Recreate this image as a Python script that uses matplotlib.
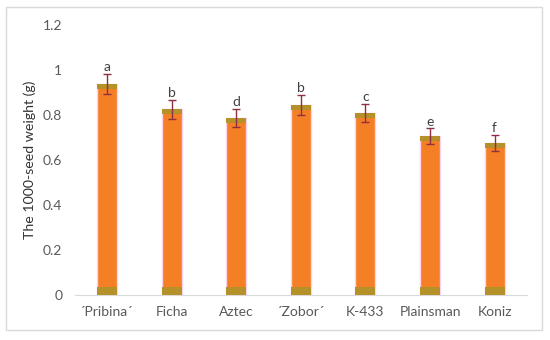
import matplotlib

matplotlib.use("Agg")
import matplotlib.pyplot as plt
from matplotlib.patches import Rectangle

# ── Data ──────────────────────────────────────────────────────
cultivars = ["\u00b4Pribina\u00b4", "Ficha", "Aztec", "\u00b4Zobor\u00b4", "K-433", "Plainsman", "Koniz"]
weights = [0.938, 0.827, 0.787, 0.845, 0.809, 0.707, 0.677]
errors = [0.046, 0.042, 0.040, 0.044, 0.040, 0.034, 0.036]
letters = ["a", "b", "d", "b", "c", "e", "f"]

# ── Styling ───────────────────────────────────────────────────
ORANGE = "#F47F24"
OLIVE = "#B5912A"
ERR = "#8E2F42"
TEXT = "#595959"

plt.rcParams.update({"font.family": ["Lato", "DejaVu Sans"], "font.size": 10})

fig = plt.figure(figsize=(5.5, 3.4), dpi=100)
ax = fig.add_axes([0.136, 0.132, 0.822, 0.794])

x = range(len(cultivars))
width = 0.31
ax.bar(x, weights, width=width, color=ORANGE, edgecolor="#FBD3EC", linewidth=1.0, zorder=2)
# darker bands at bottom and top of each bar
ax.bar(x, [0.035] * len(x), width=width, color=OLIVE, linewidth=0, zorder=3)
ax.bar(x, [0.022] * len(x), bottom=[w - 0.022 for w in weights], width=width,
       color=OLIVE, linewidth=0, zorder=3)

ax.errorbar(x, weights, yerr=errors, fmt="none", ecolor=ERR, elinewidth=1.0,
            capsize=3, capthick=1.0, zorder=4)

for xi, w, e, lab in zip(x, weights, errors, letters):
    ax.text(xi, w + e + 0.004, lab, ha="center", va="bottom", fontsize=10, color="#404040")

ax.set_xlim(-0.5, len(cultivars) - 0.5)
ax.set_ylim(0, 1.2)
ax.set_yticks([0, 0.2, 0.4, 0.6, 0.8, 1.0, 1.2])
ax.set_yticklabels(["0", "0.2", "0.4", "0.6", "0.8", "1", "1.2"])
ax.set_xticks(list(x))
ax.set_xticklabels(cultivars)
ax.tick_params(axis="both", length=0, colors=TEXT, labelsize=10)
ax.tick_params(axis="y", pad=9)
ax.tick_params(axis="x", pad=8)

for side in ["top", "right", "left"]:
    ax.spines[side].set_visible(False)
ax.spines["bottom"].set_color("#D9D9D9")

ax.set_ylabel("The 1000-seed weight (g)", fontsize=10.2, color="#333333", labelpad=5)

# outer chart border
fig.patches.append(Rectangle((6 / 550, 10 / 340), 536 / 550, 323 / 340, transform=fig.transFigure,
                             fill=False, edgecolor="#D9D9D9", linewidth=1.0))

fig.savefig("out.png", dpi=100)
